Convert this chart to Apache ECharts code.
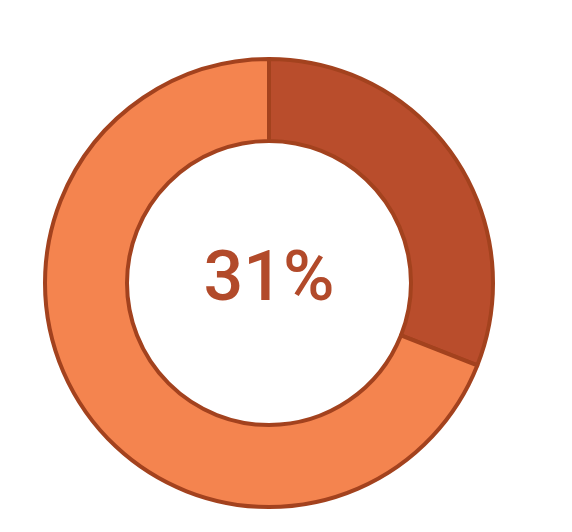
<!DOCTYPE html>
<html><head><meta charset="utf-8">
<script src="https://cdn.jsdelivr.net/npm/echarts@6/dist/echarts.min.js"></script>
<style>html,body{margin:0;padding:0;background:#fff}#c{width:572px;height:532px}</style>
</head><body><div id="c"></div>
<script>
const categories = ['Share', 'Rest'];
const values = [31, 69];
const centerLabel = '31%';
const colors = ['#b94d2c', '#f4844f'];

const chart = echarts.init(document.getElementById('c'), null, {renderer: 'canvas'});
chart.setOption({
  animation: false,
  graphic: [{
    type: 'text',
    x: 269, y: 282,
    style: {text: centerLabel, font: '500 70px Roboto', fill: '#b24a2a', textAlign: 'center', textVerticalAlign: 'middle'}
  }],
  series: [{
    type: 'pie',
    center: [269, 283],
    radius: [142, 224],
    startAngle: 90,
    clockwise: true,
    label: {show: false},
    labelLine: {show: false},
    silent: true,
    itemStyle: {borderColor: '#a3421e', borderWidth: 4},
    data: categories.map((c, i) => ({name: c, value: values[i], itemStyle: {color: colors[i]}}))
  }]
});
</script></body></html>
